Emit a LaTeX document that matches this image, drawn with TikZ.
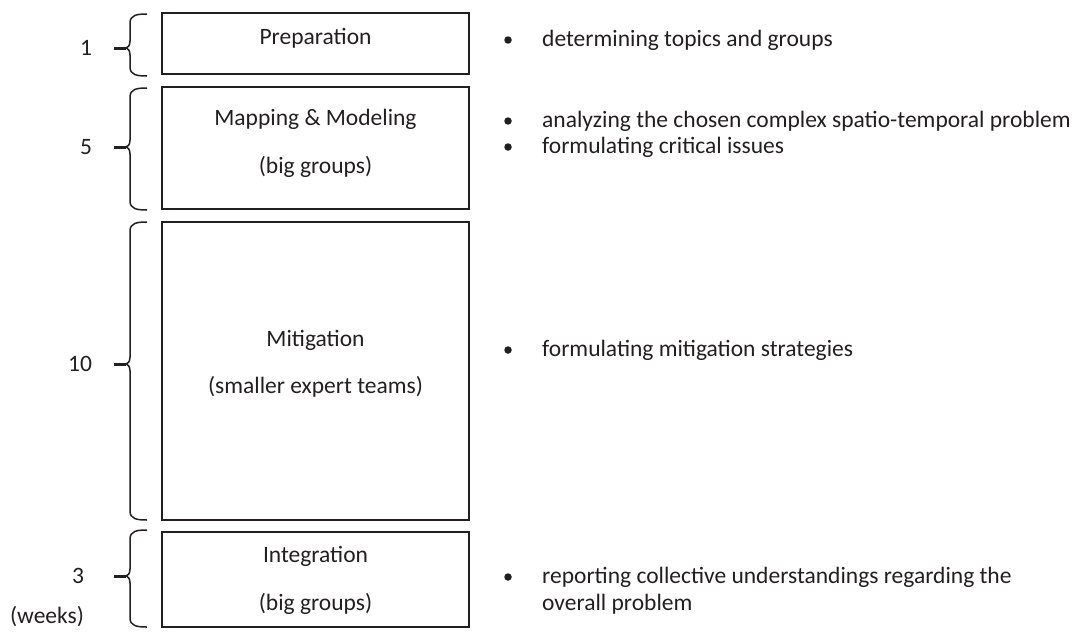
\documentclass[tikz,border=0pt]{standalone}
\usepackage{fontspec}
\setmainfont{Carlito}
\definecolor{ink}{HTML}{231F20}
\newcommand\wkbrace[3]{%
  \draw[bracel] (147,#1) .. controls (137,#1) and (130,#1+1) .. (130,#1+9)
    -- (130,#2-7) .. controls (130,#2-2) and (128,#2) .. (124,#2)
    .. controls (128,#2) and (130,#2+2) .. (130,#2+7)
    -- (130,#3-9) .. controls (130,#3-1) and (137,#3) .. (147,#3);
  \draw[line width=3pt,ink] (114,#2) -- (126,#2);}
\begin{document}
\begin{tikzpicture}[x=1pt,y=-1pt,
  every node/.style={text=ink,font=\fontsize{23.5}{27}\selectfont},
  phase/.style={draw=ink,line width=2pt,minimum width=307pt,inner sep=0pt},
  txt/.style={anchor=base,inner sep=0pt},
  item/.style={anchor=base west,inner sep=0pt},
  dot/.style={circle,fill=ink,inner sep=0pt,minimum size=7.5pt},
  bracel/.style={draw=ink,line width=1.5pt},
  wk/.style={anchor=center,inner sep=0pt}]
\useasboundingbox (0,0) rectangle (1076,632);
% boxes
\node[phase,minimum height=61pt] (prep) at (315.5,43) {};
\node[phase,minimum height=122pt] (map) at (315.5,148) {};
\node[phase,minimum height=298pt] (mit) at (315.5,371) {};
\node[phase,minimum height=95.5pt] (int) at (315.5,579.25) {};
% box texts (baselines)
\node[txt] (prepA) at (315.5,44) {Preparation};
\node[txt] (mapA) at (315.5,125) {Mapping \& Modeling};
\node[txt] (mapB) at (315.5,173) {(big groups)};
\node[txt] (mitA) at (315.5,346) {Mitigation};
\node[txt] (mitB) at (315.5,393) {(smaller expert teams)};
\node[txt] (intA) at (315.5,562) {Integration};
\node[txt] (intB) at (315.5,610) {(big groups)};
% braces
\wkbrace{14}{48}{76}
\wkbrace{88}{147}{210}
\wkbrace{222}{364}{520}
\wkbrace{530}{576}{627}
% week numbers
\node[wk] (w1) at (86,48) {1};
\node[wk] (w5) at (86,147) {5};
\node[wk] (w10) at (80,364) {10};
\node[wk] (w3) at (78,576) {3};
\node[wk] (weeks) at (47,617) {(weeks)};
% bullets
\node[dot] (d1) at (508,40) {};
\node[item] (t1) at (542,46) {determining topics and groups};
\node[dot] (d2) at (508,121) {};
\node[item] (t2) at (542,127) {analyzing the chosen complex spatio-temporal problem};
\node[dot] (d3) at (508,147) {};
\node[item] (t3) at (542,153) {formulating critical issues};
\node[dot] (d4) at (508,350) {};
\node[item] (t4) at (542,356) {formulating mitigation strategies};
\node[dot] (d5) at (508,577) {};
\node[item] (t5) at (542,583) {reporting collective understandings regarding the};
\node[item] (t5b) at (542,610) {overall problem};
\end{tikzpicture}
\end{document}
